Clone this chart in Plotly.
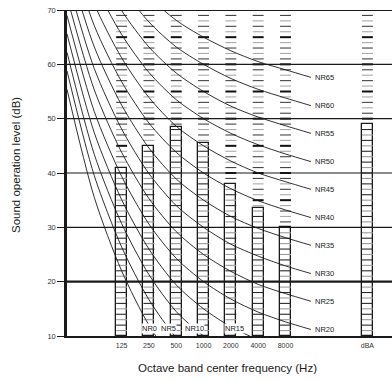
import plotly.graph_objects as go

# ---------------- data ----------------
bands = ["31.5", "63", "125", "250", "500", "1000", "2000", "4000", "8000"]
nr_levels = [0, 5, 10, 15, 20, 25, 30, 35, 40, 45, 50, 55, 60, 65]
# NR curve values (dB) at 31.5 ... 8000 Hz
nr_curves = [
    [55.4, 35.5, 22.0, 12.0, 4.8, 0.0, -3.5, -6.1, -8.0],
    [58.8, 39.5, 26.4, 16.7, 9.7, 5.0, 1.6, -1.0, -2.9],
    [62.2, 43.4, 30.7, 21.3, 14.5, 10.0, 6.7, 4.2, 2.3],
    [65.6, 47.4, 35.1, 26.0, 19.4, 15.0, 11.7, 9.3, 7.5],
    [69.0, 51.3, 39.4, 30.6, 24.3, 20.0, 16.8, 14.4, 12.6],
    [72.4, 55.3, 43.8, 35.3, 29.2, 25.0, 21.9, 19.5, 17.8],
    [75.8, 59.2, 48.1, 39.9, 34.0, 30.0, 26.9, 24.7, 22.9],
    [79.2, 63.2, 52.5, 44.6, 38.9, 35.0, 32.0, 29.8, 28.1],
    [82.6, 67.1, 56.8, 49.2, 43.8, 40.0, 37.1, 34.9, 33.2],
    [86.0, 71.1, 61.2, 53.9, 48.6, 45.0, 42.2, 40.0, 38.4],
    [89.5, 75.0, 65.5, 58.5, 53.5, 50.0, 47.3, 45.2, 43.5],
    [92.9, 79.0, 69.9, 63.2, 58.4, 55.0, 52.3, 50.3, 48.7],
    [96.3, 82.9, 74.2, 67.8, 63.2, 60.0, 57.4, 55.4, 53.8],
    [99.7, 86.9, 78.6, 72.5, 68.1, 65.0, 62.5, 60.5, 59.0],
]
# level where each curve meets its label, just past 8000 Hz
nr_end_values = [-9.4, -4.3, 0.9, 6.1, 11.2, 16.4, 21.5, 26.7, 31.8, 37.0, 42.1, 47.3, 52.4, 57.6]

bar_labels = ["125", "250", "500", "1000", "2000", "4000", "8000", "dBA"]
bar_values = [41, 45, 48.5, 45.5, 38, 33.5, 30, 49]

y_ticks = [10, 20, 30, 40, 50, 60, 70]

# ---------------- layout helpers ----------------
pos = {b: i for i, b in enumerate(bands)}
pos["dBA"] = 11
end_x = 8.93
bar_w = 0.4
Y0, Y1 = 10, 70

SMALL = "Liberation Sans, Arial, sans-serif"
BIG = "Liberation Sans, Arial, sans-serif"

fig = go.Figure()

# bar outlines
fig.add_trace(go.Bar(
    x=[pos[b] for b in bar_labels], y=[v - Y0 for v in bar_values], base=Y0,
    width=bar_w, marker=dict(color="rgba(0,0,0,0)", line=dict(color="#1a1a1a", width=1.3)),
    hoverinfo="skip", showlegend=False))

# hatch / dash segments
groups = {
    "in_dark": ([], [], "#2a2a2a", 1.1),
    "in_light": ([], [], "#9a9a9a", 1.1),
    "up_bold": ([], [], "#111111", 2.0),
    "up_dark": ([], [], "#444444", 1.1),
    "up_light": ([], [], "#aaaaaa", 1.1),
}


def add_seg(key, c, lvl):
    xs, ys, _, _ = groups[key]
    xs += [c - bar_w / 2, c + bar_w / 2, None]
    ys += [lvl, lvl, None]


for b, v in zip(bar_labels, bar_values):
    c = pos[b]
    for lvl in range(Y0 + 1, Y1):
        if lvl < v:
            add_seg("in_dark" if lvl % 2 == 0 else "in_light", c, lvl)
        elif lvl > v:
            if lvl % 5 == 0:
                add_seg("up_bold", c, lvl)
            else:
                add_seg("up_dark" if lvl % 2 == 1 else "up_light", c, lvl)

for key, (xs, ys, col, wd) in groups.items():
    fig.add_trace(go.Scatter(x=xs, y=ys, mode="lines", line=dict(color=col, width=wd),
                             hoverinfo="skip", showlegend=False))

# NR curves
curve_x = list(range(len(bands))) + [end_x]
for lvl, vals, ev in zip(nr_levels, nr_curves, nr_end_values):
    fig.add_trace(go.Scatter(x=curve_x, y=vals + [ev], mode="lines",
                             line=dict(color="#1a1a1a", width=0.9, shape="spline", smoothing=0.8),
                             hoverinfo="skip", showlegend=False))

# horizontal grid lines
for t in y_ticks[1:]:
    fig.add_shape(type="line", xref="paper", x0=0, x1=1, yref="y", y0=t, y1=t,
                  line=dict(color="#1a1a1a", width=2.2 if t in (20, 70) else 1.2), layer="above")

# NR labels
bottom_label_x = {0: 3.02, 5: 3.7, 10: 4.65, 15: 6.13}
anns = []
for lvl, ev in zip(nr_levels, nr_end_values):
    if lvl in bottom_label_x:
        anns.append(dict(x=bottom_label_x[lvl], y=11.3, xref="x", yref="y", text=f"NR{lvl}",
                         showarrow=False, xanchor="center", yanchor="middle",
                         bgcolor="white", borderpad=0,
                         font=dict(family=SMALL, size=7.5, color="#1a1a1a")))
    else:
        anns.append(dict(x=end_x + 0.08, y=ev, xref="x", yref="y", text=f"NR{lvl}",
                         showarrow=False, xanchor="left", yanchor="middle",
                         font=dict(family=SMALL, size=7.5, color="#1a1a1a")))

anns.append(dict(x=-0.157, y=0.5245, xref="paper", yref="paper", text="Sound operation level (dB)",
                 textangle=-90, showarrow=False, xanchor="center", yanchor="middle",
                 font=dict(family=BIG, size=11.5, color="#1a1a1a")))
anns.append(dict(x=0.494, y=-0.098, xref="paper", yref="paper", text="Octave band center frequency (Hz)",
                 showarrow=False, xanchor="center", yanchor="middle",
                 font=dict(family=BIG, size=11.5, color="#1a1a1a")))

fig.update_layout(
    width=392, height=381,
    margin=dict(l=67, r=0, t=10, b=45),
    paper_bgcolor="white", plot_bgcolor="white",
    showlegend=False, bargap=0,
    annotations=anns,
    xaxis=dict(range=[0, 11.9], showgrid=False, zeroline=False,
               showline=True, linecolor="#1a1a1a", linewidth=2,
               tickmode="array", tickvals=[pos[b] for b in bar_labels], ticktext=bar_labels,
               ticks="", tickfont=dict(family=SMALL, size=7, color="#333"), ticklabelstandoff=2),
    yaxis=dict(range=[Y0, Y1], showgrid=False, zeroline=False,
               showline=True, linecolor="#1a1a1a", linewidth=2.5,
               tickmode="array", tickvals=y_ticks, ticks="outside", ticklen=7,
               tickcolor="#1a1a1a", tickwidth=1,
               tickfont=dict(family=SMALL, size=7.5, color="#333")),
)

fig.write_html(
    "out.html",
    config={"displayModeBar": False},
    post_script="document.body.style.margin='0px';document.documentElement.style.overflow='hidden';",
)
